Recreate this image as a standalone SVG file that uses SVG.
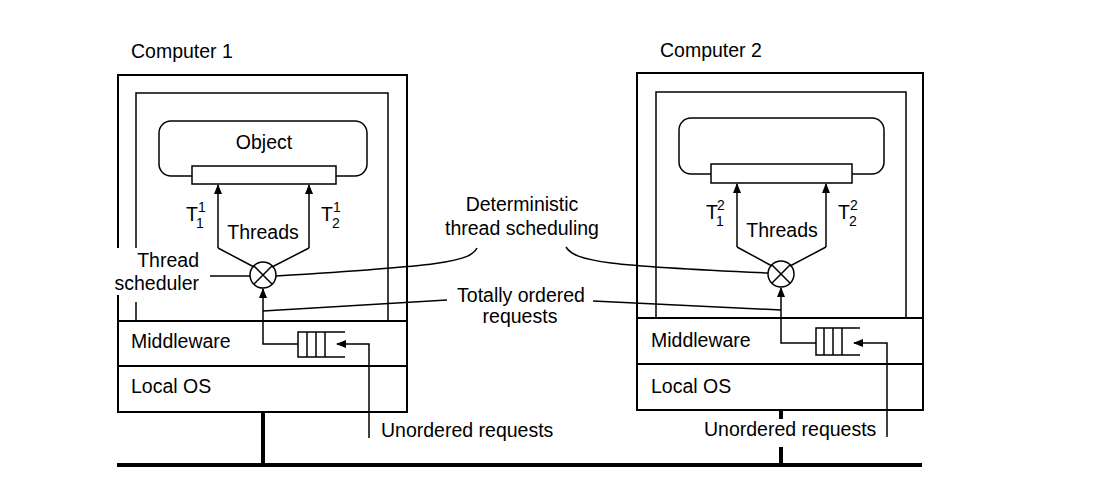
<svg xmlns="http://www.w3.org/2000/svg" width="1114" height="497" viewBox="0 0 1114 497">
<defs>
<marker id="ah" markerWidth="10" markerHeight="8" refX="9" refY="4" orient="auto" markerUnits="userSpaceOnUse">
<path d="M0,0 L10,4 L0,8 Z" fill="#000"/>
</marker>
<style>
text{font-family:"Liberation Sans",Arial,sans-serif;font-size:19.5px;fill:#000}
.s{font-size:14px}
.m{text-anchor:middle}
.e{text-anchor:end}
.box{fill:none;stroke:#000;stroke-width:2}
.ln{fill:none;stroke:#000;stroke-width:1.5}
.arr{fill:none;stroke:#000;stroke-width:1.5;marker-end:url(#ah)}
.bus{fill:none;stroke:#000;stroke-width:4}
</style>
</defs>
<rect width="1114" height="497" fill="#fff"/>

<g id="computer1">
<text x="131" y="58">Computer 1</text>
<path class="box" d="M118,248 V75 H407 V412 H118 V295"/>
<path class="ln" d="M136,248 V93 H388 V321 M136,302 V321"/>
<path class="box" d="M118,321 H407 M118,366 H407"/>
<text x="131" y="348">Middleware</text>
<text x="131" y="393">Local OS</text>
<text x="199" y="267" class="e">Thread</text>
<text x="199" y="290" class="e">scheduler</text>
</g>

<g id="object1">
<rect class="ln" x="159" y="121" width="208" height="55" rx="12"/>
<rect x="192" y="166" width="144" height="18" fill="#fff" stroke="#000" stroke-width="1.5"/>
<text x="264" y="149" class="m">Object</text>
</g>

<g id="scheduler1">
<circle cx="263" cy="275" r="13" fill="#fff" stroke="#000" stroke-width="1.5"/>
<path class="ln" d="M253.8,265.8 L272.2,284.2 M272.2,265.8 L253.8,284.2"/>
<text x="263" y="239" class="m">Threads</text>
<text x="186" y="221">T</text><text x="198" y="212" class="s">1</text><text x="196" y="228" class="s">1</text>
<text x="321" y="221">T</text><text x="333" y="212" class="s">1</text><text x="332" y="228" class="s">2</text>
</g>

<g id="queue1">
<path class="ln" d="M345,332 H298 V357 H345 M307,332 V357 M316,332 V357 M325,332 V357"/>
</g>

<g id="computer2">
<text x="660" y="57">Computer 2</text>
<rect class="box" x="637" y="73" width="286" height="337"/>
<path class="ln" d="M656,318 V92 H906 V318"/>
<path class="box" d="M637,318 H923 M637,364 H923"/>
<text x="651" y="347">Middleware</text>
<text x="651" y="393">Local OS</text>
</g>

<g id="object2">
<rect class="ln" x="679" y="118" width="205" height="56" rx="12"/>
<rect x="711" y="164" width="141" height="19" fill="#fff" stroke="#000" stroke-width="1.5"/>
</g>

<g id="scheduler2">
<circle cx="781" cy="274" r="13" fill="#fff" stroke="#000" stroke-width="1.5"/>
<path class="ln" d="M771.8,264.8 L790.2,283.2 M790.2,264.8 L771.8,283.2"/>
<text x="782" y="237" class="m">Threads</text>
<text x="706" y="219">T</text><text x="717" y="210" class="s">2</text><text x="716" y="226" class="s">1</text>
<text x="838" y="219">T</text><text x="850" y="210" class="s">2</text><text x="849" y="226" class="s">2</text>
</g>

<g id="queue2">
<path class="ln" d="M860,328 H816 V355 H860 M824,328 V355 M833,328 V355 M842,328 V355"/>
</g>

<g id="labels">
<text x="522" y="211" class="m">Deterministic</text>
<text x="522" y="235" class="m">thread scheduling</text>
<text x="521" y="302" class="m">Totally ordered</text>
<text x="520" y="323" class="m">requests</text>
<text x="381" y="437">Unordered requests</text>
<text x="704" y="436">Unordered requests</text>
</g>

<g id="connectors">
<path class="arr" d="M218,248 V185"/>
<path class="arr" d="M309,248 V185"/>
<path class="ln" d="M218,248 L254,267 M309,248 L272,267"/>
<path class="arr" d="M298,344 H263 V289"/>
<path class="arr" d="M369,438 V344 H337"/>
<path class="ln" d="M210,276 H250"/>
<path class="ln" d="M447,300 L263,311"/>
<path class="ln" d="M477,248 C470,262 440,266 276,276"/>

<path class="arr" d="M737,247 V184"/>
<path class="arr" d="M826,247 V184"/>
<path class="ln" d="M737,247 L772,266 M826,247 L790,266"/>
<path class="arr" d="M816,343 H781 V288"/>
<path class="arr" d="M887,437 V343 H854"/>
<path class="ln" d="M593,301 L781,310"/>
<path class="ln" d="M566,247 C575,262 610,266 768,273"/>

<path class="bus" d="M263,412 V465"/>
<path class="bus" d="M781,410 V419 M781,447 V465"/>
<path class="bus" d="M117,465 H922"/>
</g>
</svg>
